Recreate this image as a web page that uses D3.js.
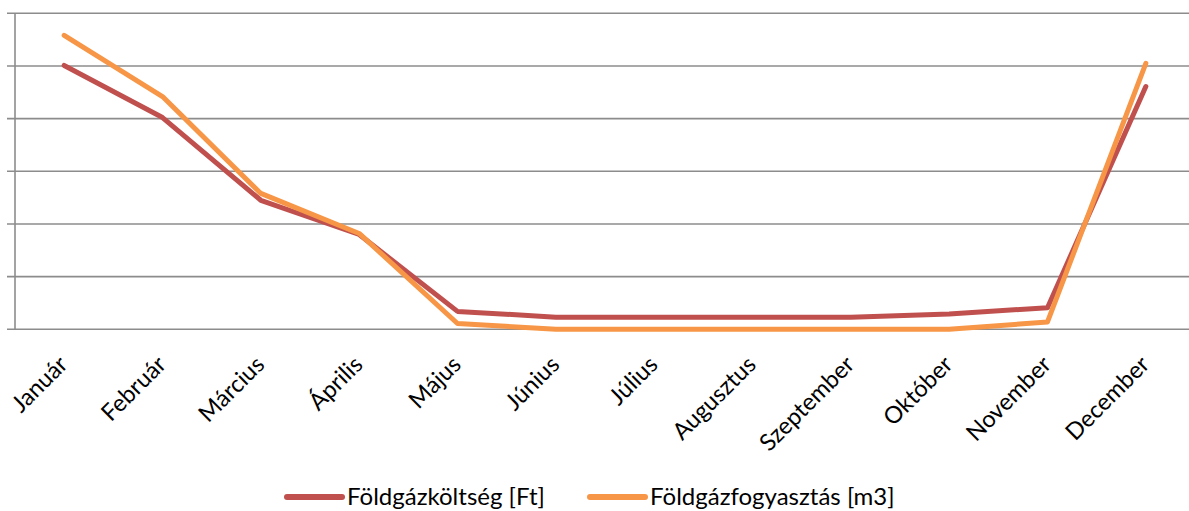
<!DOCTYPE html>
<html><head><meta charset="utf-8">
<script src="https://cdn.jsdelivr.net/npm/d3@7"></script>
<style>body{margin:0;background:#fff}svg{display:block}text{font-family:Lato,"Open Sans",sans-serif}</style>
</head><body>
<svg id="c" width="1189" height="511"></svg>
<script>
const months = ["Január","Február","Március","Április","Május","Június","Július","Augusztus","Szeptember","Október","November","December"];
const koltseg = [5.01, 4.02, 2.45, 1.80, 0.34, 0.23, 0.23, 0.23, 0.23, 0.29, 0.41, 4.61];
const fogyasztas = [5.58, 4.42, 2.58, 1.82, 0.11, 0.0, 0.0, 0.0, 0.0, 0.0, 0.14, 5.05];
const seriesNames = ["Földgázköltség [Ft]", "Földgázfogyasztás [m3]"];
const colors = ["#C0504D", "#F79646"];
const yTicks = [0,1,2,3,4,5,6];

const svg = d3.select("#c");
const x = d3.scaleBand().domain(months).range([15, 1195]);
const y = d3.scaleLinear().domain([0, 6]).range([329.3, 13.3]);

// gridlines
svg.append("g").selectAll("line").data(yTicks).join("line")
  .attr("x1", 7).attr("x2", 1189)
  .attr("y1", d => y(d)).attr("y2", d => y(d))
  .attr("stroke", "#8c8c8c").attr("stroke-width", 1.6);
// y axis line
svg.append("line").attr("x1", 15).attr("x2", 15).attr("y1", y(6)).attr("y2", y(0))
  .attr("stroke", "#8c8c8c").attr("stroke-width", 1.6);

// x labels
svg.append("g").selectAll("text").data(months).join("text")
  .attr("transform", d => `translate(${x(d) + x.bandwidth()/2 + 5},${366}) rotate(-45)`)
  .attr("text-anchor", "end")
  .attr("font-size", 23.5)
  .attr("fill", "#000")
  .text(d => d);

const line = d3.line().x((d, i) => x(months[i]) + x.bandwidth()/2).y(d => y(d));
[koltseg, fogyasztas].forEach((s, k) => {
  svg.append("path").attr("d", line(s)).attr("fill", "none")
    .attr("stroke", colors[k]).attr("stroke-width", 5)
    .attr("stroke-linejoin", "round").attr("stroke-linecap", "round");
});

// legend
const lg = [{x: 285}, {x: 588}];
seriesNames.forEach((n, k) => {
  svg.append("line").attr("x1", lg[k].x + 2).attr("x2", lg[k].x + 57)
    .attr("y1", 497).attr("y2", 497)
    .attr("stroke", colors[k]).attr("stroke-width", 6).attr("stroke-linecap", "round");
  svg.append("text").attr("x", lg[k].x + 62).attr("y", 505)
    .attr("font-size", 24).attr("fill", "#000").text(n);
});
</script>
</body></html>
